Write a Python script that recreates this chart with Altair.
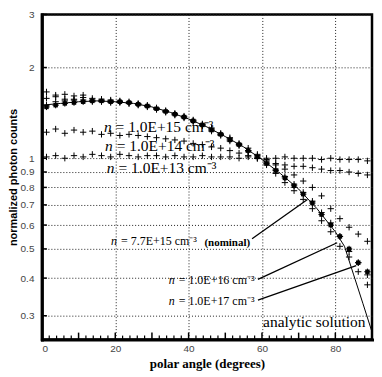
import altair as alt
import pandas as pd

# ---------------- data ----------------
angles = [1.25, 3.75, 6.25, 8.75, 11.25, 13.75, 16.25, 18.75, 21.25, 23.75,
          26.25, 28.75, 31.25, 33.75, 36.25, 38.75, 41.25, 43.75, 46.25, 48.75,
          51.25, 53.75, 56.25, 58.75, 61.25, 63.75, 66.25, 68.75, 71.25, 73.75,
          76.25, 78.75, 81.25, 83.75, 86.25, 88.75]

n13 = [1.01, 1.02, 1.00, 1.02, 1.01, 1.03, 1.02, 1.01, 1.03, 1.02,
       1.01, 1.02, 1.02, 1.01, 1.02, 1.01, 1.01, 1.02, 1.01, 1.01,
       1.01, 1.00, 1.01, 1.00, 1.00, 1.00, 1.01, 1.00, 1.00, 1.00,
       0.99, 1.00, 0.99, 0.99, 0.99, 0.98]

n14 = [1.22, 1.25, 1.21, 1.24, 1.22, 1.23, 1.20, 1.21, 1.19, 1.20,
       1.19, 1.18, 1.17, 1.16, 1.15, 1.14, 1.12, 1.11, 1.09, 1.08,
       1.06, 1.04, 1.02, 1.00, 0.98, 0.96, 0.95, 0.94, 0.94, 0.93,
       0.92, 0.91, 0.91, 0.90, 0.89, 0.88]

n15 = [1.66, 1.62, 1.63, 1.61, 1.62, 1.58, 1.57, 1.56, 1.55, 1.54,
       1.52, 1.50, 1.47, 1.44, 1.41, 1.38, 1.34, 1.30, 1.26, 1.21,
       1.17, 1.12, 1.08, 1.03, 0.99, 0.95, 0.92, 0.88, 0.84, 0.80,
       0.75, 0.68, 0.63, 0.59, 0.56, 0.53]

nominal = [1.48, 1.50, 1.52, 1.53, 1.54, 1.55, 1.55, 1.54, 1.54, 1.53,
           1.51, 1.49, 1.46, 1.43, 1.40, 1.37, 1.33, 1.29, 1.24, 1.20,
           1.15, 1.11, 1.06, 1.01, 0.96, 0.91, 0.86, 0.81, 0.76, 0.71,
           0.65, 0.60, 0.55, 0.50, 0.45, 0.42]

n16 = [1.58, 1.60, 1.57, 1.56, 1.59, 1.56, 1.54, 1.55, 1.53, 1.52,
       1.50, 1.48, 1.45, 1.42, 1.39, 1.36, 1.32, 1.28, 1.23, 1.19,
       1.14, 1.10, 1.05, 1.00, 0.95, 0.89, 0.83, 0.78, 0.73, 0.68,
       0.62, 0.57, 0.51, 0.47, 0.42, 0.38]

n17 = [1.50, 1.54, 1.55, 1.57, 1.56, 1.54, 1.55, 1.53, 1.54, 1.52,
       1.51, 1.49, 1.46, 1.43, 1.40, 1.37, 1.33, 1.29, 1.25, 1.20,
       1.16, 1.11, 1.06, 1.02, 0.97, 0.92, 0.87, 0.82, 0.77, 0.72,
       0.66, 0.61, 0.55, 0.49, 0.45, 0.41]

analytic_x = [0, 5, 10, 15, 20, 25, 30, 35, 40, 45, 50, 55, 60, 65, 70, 75, 80, 82.5, 85, 87.5, 90]
analytic_y = [1.50, 1.52, 1.54, 1.55, 1.54, 1.52, 1.48, 1.42, 1.35, 1.27, 1.18, 1.09,
              0.99, 0.89, 0.79, 0.68, 0.57, 0.51, 0.41, 0.33, 0.265]

x_labels = [0, 10, 20, 30, 40, 50, 60, 70, 80, 90]
x_minor = [2, 4, 6, 8, 12, 14, 16, 18, 22, 24, 26, 28, 32, 34, 36, 38, 42, 44, 46, 48,
           52, 54, 56, 58, 62, 64, 66, 68, 72, 74, 76, 78, 82, 84, 86, 88]
y_labels = [0.3, 0.4, 0.5, 0.6, 0.7, 0.8, 0.9, 1, 2, 3]

# annotations
lab_x = [19.0, 19.3, 19.8, 20.5, 36.2, 36.2]
lab_y = [1.27, 1.095, 0.927, 0.531, 0.393, 0.336]
lab_rest = ["= 1.0E+15 cm⁻³", "= 1.0E+14 cm⁻³", "= 1.0E+13 cm⁻³",
            "= 7.7E+15 cm⁻³", "= 1.0E+16 cm⁻³", "= 1.0E+17 cm⁻³"]
lab_size = [15.5, 15.5, 15.5, 12, 12, 12]

arrow_x1 = [57.3, 58.9, 58.9]
arrow_y1 = [0.54, 0.396, 0.338]
arrow_x2 = [72.4, 80.5, 85.7]
arrow_y2 = [0.729, 0.524, 0.44]

# ---------------- tables ----------------
rows = []
for name, vals in [("1E13", n13), ("1E14", n14), ("1E15", n15),
                   ("1E16", n16), ("1E17", n17), ("nominal", nominal)]:
    for a, v in zip(angles, vals):
        rows.append({"series": name, "angle": a, "val": v})
df = pd.DataFrame(rows)
df_nom = pd.DataFrame({"angle": angles, "val": nominal})
df_an = pd.DataFrame({"angle": analytic_x, "val": analytic_y})
df_lab = pd.DataFrame({"angle": lab_x, "val": lab_y, "rest": lab_rest,
                       "n": ["n"] * len(lab_x), "fs": lab_size})
df_arr = pd.DataFrame({"angle": arrow_x1, "val": arrow_y1, "a2": arrow_x2, "v2": arrow_y2})
df_xmaj = pd.DataFrame({"angle": x_labels})
df_xmin = pd.DataFrame({"angle": x_minor})
df_yt = pd.DataFrame({"val": y_labels})

W, H = 331, 326

xs = alt.Scale(domain=[0, 90], nice=False, zero=False)
ys = alt.Scale(type="log", domain=[0.25, 3], nice=False)

X = alt.X("angle:Q", scale=xs, axis=alt.Axis(
    values=x_labels, title="polar angle (degrees)", grid=True, gridDash=[1, 2],
    gridColor="#222", gridWidth=1, tickSize=0, domainWidth=3, domainColor="black",
    labelFont="Liberation Sans", labelFontSize=10, labelColor="#444", labelPadding=4,
    titleFont="Liberation Serif", titleFontWeight="bold", titleFontSize=13,
    titleColor="black", titlePadding=4))
Y = alt.Y("val:Q", scale=ys, axis=alt.Axis(
    values=y_labels, format="~g", title="normalized photon counts", grid=True,
    gridDash=[1, 2], gridColor="#222", gridWidth=1, tickSize=0, domainWidth=3,
    domainColor="black", labelFont="Liberation Sans", labelFontSize=10,
    labelColor="#444", labelPadding=8, titleFont="Liberation Sans",
    titleFontWeight="bold", titleFontSize=11, titleColor="black", titlePadding=2))

plus = "M-1,0L1,0M0,-1L0,1"

base = alt.Chart(df).mark_point(shape=plus, filled=False, color="black",
                                strokeWidth=1, size=40, opacity=1).encode(x=X, y=Y)

squares = alt.Chart(df_nom).mark_point(shape="square", filled=True, color="black",
                                       size=20, opacity=1).encode(
    x=alt.X("angle:Q", scale=xs), y=alt.Y("val:Q", scale=ys))

analytic = alt.Chart(df_an).mark_line(color="black", strokeWidth=1).encode(
    x=alt.X("angle:Q", scale=xs), y=alt.Y("val:Q", scale=ys))

arrows = alt.Chart(df_arr).mark_rule(color="black", strokeWidth=1.3).encode(
    x=alt.X("angle:Q", scale=xs), y=alt.Y("val:Q", scale=ys),
    x2="a2:Q", y2="v2:Q")

lab_n = alt.Chart(df_lab).mark_text(font="Liberation Serif", fontStyle="italic",
                                    align="right", baseline="middle", color="black").encode(
    x=alt.X("angle:Q", scale=xs), y=alt.Y("val:Q", scale=ys), text="n:N",
    size=alt.Size("fs:Q", scale=None, legend=None))
lab_r = alt.Chart(df_lab).mark_text(font="Liberation Serif", align="left", dx=4,
                                    baseline="middle", color="black").encode(
    x=alt.X("angle:Q", scale=xs), y=alt.Y("val:Q", scale=ys), text="rest:N",
    size=alt.Size("fs:Q", scale=None, legend=None))

nom_txt = alt.Chart(pd.DataFrame({"angle": [44.3], "val": [0.525], "t": ["(nominal)"]})).mark_text(
    font="Liberation Serif", fontWeight="bold", fontSize=11, align="left",
    baseline="middle", color="black").encode(
    x=alt.X("angle:Q", scale=xs), y=alt.Y("val:Q", scale=ys), text="t:N")

an_txt = alt.Chart(pd.DataFrame({"angle": [60.3], "val": [0.285], "t": ["analytic solution"]})).mark_text(
    font="Liberation Serif", fontSize=15.5, align="left", baseline="middle",
    color="black").encode(
    x=alt.X("angle:Q", scale=xs), y=alt.Y("val:Q", scale=ys), text="t:N")

xmaj = alt.Chart(df_xmaj).mark_rule(color="black", strokeWidth=1.5).encode(
    x=alt.X("angle:Q", scale=xs), y=alt.value(H), y2=alt.value(H - 7))
xmin = alt.Chart(df_xmin).mark_rule(color="black", strokeWidth=1.2).encode(
    x=alt.X("angle:Q", scale=xs), y=alt.value(H), y2=alt.value(H - 4))
yt = alt.Chart(df_yt).mark_rule(color="black", strokeWidth=1.5).encode(
    y=alt.Y("val:Q", scale=ys), x=alt.value(0), x2=alt.value(5))

chart = alt.layer(base, squares, analytic, arrows, lab_n, lab_r, nom_txt, an_txt,
                  xmaj, xmin, yt).properties(
    width=W, height=H,
    autosize=alt.AutoSizeParams(type="none"),
    padding={"left": 34, "top": 6, "right": 2, "bottom": 36},
).configure_view(stroke="black", strokeWidth=2.5).configure_axis(domainCap="square")

chart.save("out.html", embed_options={"renderer": "svg", "actions": False})
